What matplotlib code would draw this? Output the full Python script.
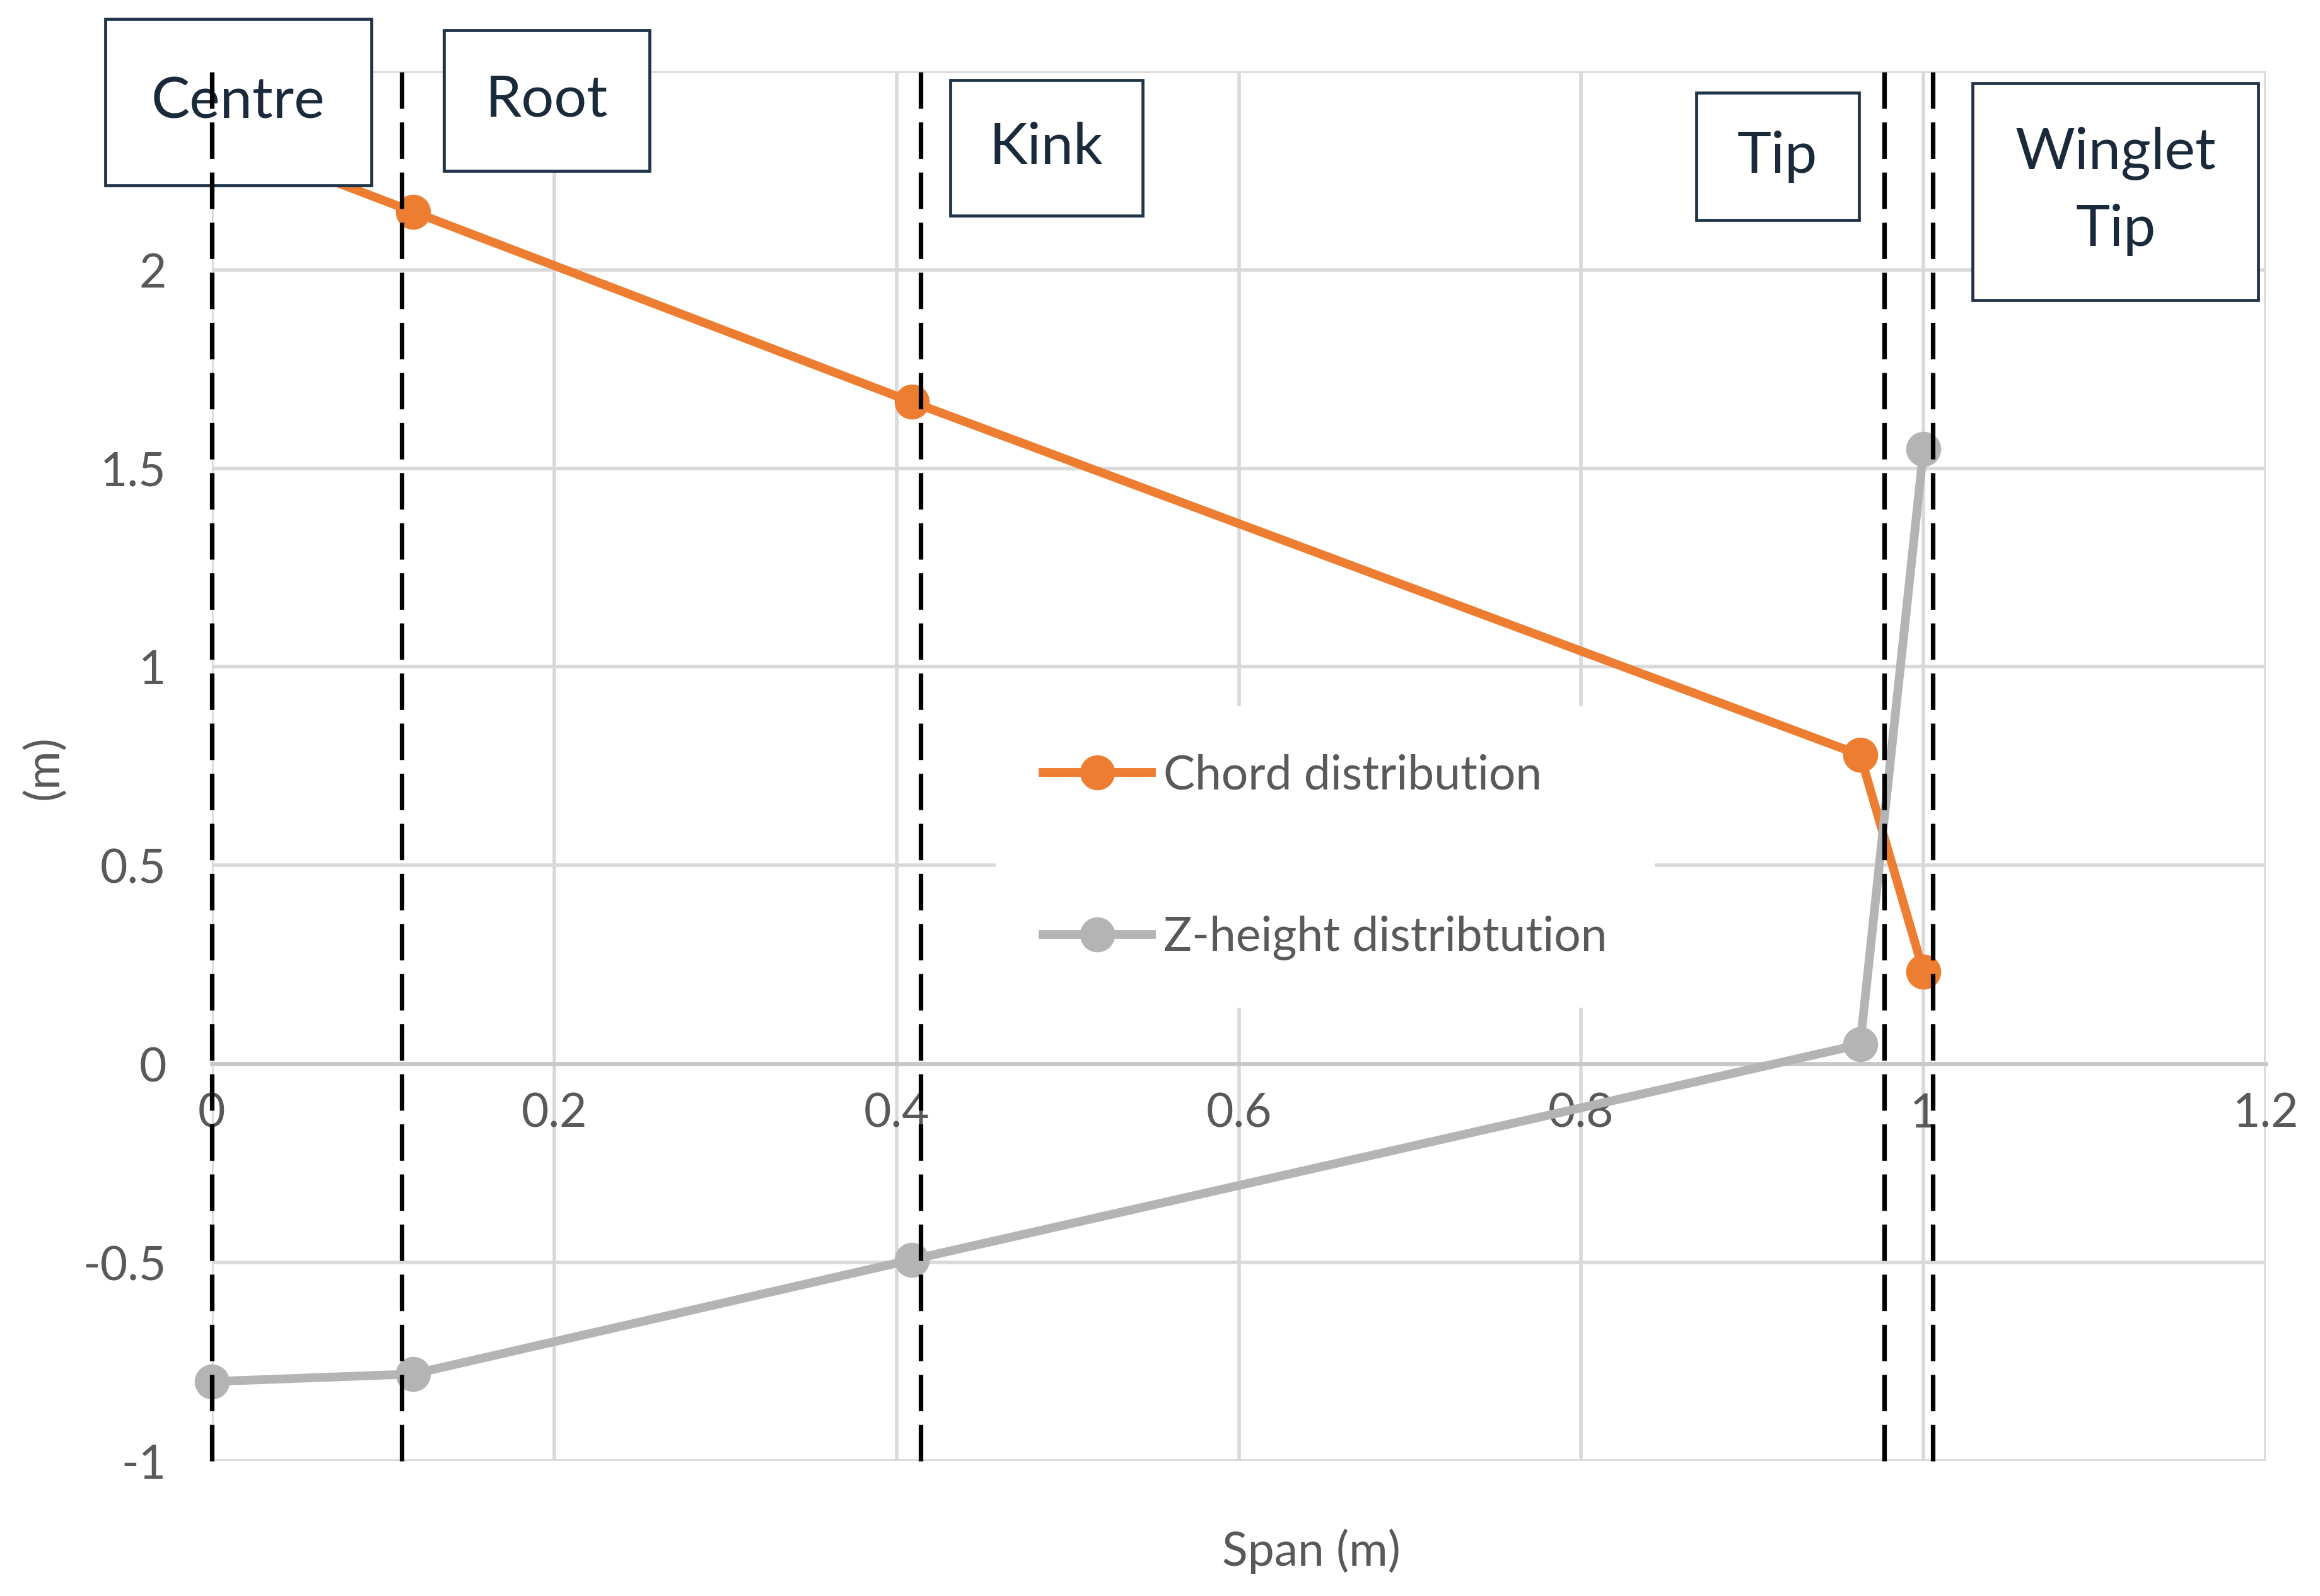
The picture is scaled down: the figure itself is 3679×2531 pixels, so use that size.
import numpy as np
import matplotlib
matplotlib.use("Agg")
import matplotlib.pyplot as plt
from matplotlib.patches import Rectangle

# span stations (m) and the two distributions
span = [0.0, 0.1176, 0.409, 0.963, 1.0]
chord = [2.34, 2.146, 1.667, 0.778, 0.232]
z_height = [-0.80, -0.781, -0.493, 0.049, 1.548]

# section markers (dashed lines)
section_x = [0.0, 0.111, 0.414, 0.977, 1.0055]

# section label boxes, figure fraction (x0, y0, x1, y1)
box_labels = ["Centre", "Root", "Kink", "Tip", "Winglet\nTip"]
box_extent = [
    (0.0453, 0.884, 0.1601, 0.988),
    (0.1913, 0.893, 0.2800, 0.981),
    (0.4094, 0.865, 0.4923, 0.950),
    (0.7309, 0.862, 0.8010, 0.942),
    (0.8501, 0.812, 0.9732, 0.948),
]

x_ticks = [0, 0.2, 0.4, 0.6, 0.8, 1, 1.2]
y_ticks = [-1, -0.5, 0, 0.5, 1, 1.5, 2, 2.5]

ORANGE = "#ed7d31"
GREY = "#b4b4b4"
TXT = "#595959"
GRID = "#d9d9d9"
NAVY = "#1f3349"

plt.rcParams['font.family'] = ['Lato', 'DejaVu Sans']

fig = plt.figure(figsize=(18.4, 12.655), dpi=200)
ax = fig.add_axes([0.0913, 0.0846, 0.8851, 0.8708])

ax.set_xlim(0, 1.2)
ax.set_ylim(-1, 2.5)
ax.set_xticks(x_ticks)
ax.set_yticks(y_ticks)
ax.set_xticklabels(["0", "0.2", "0.4", "0.6", "0.8", "1", "1.2"])
ax.set_yticklabels(["-1", "-0.5", "0", "0.5", "1", "1.5", "2", ""])
ax.grid(True, color=GRID, linewidth=2.0, zorder=0)
ax.set_axisbelow(True)

for s in ["top", "right", "left"]:
    ax.spines[s].set_visible(False)
ax.spines["bottom"].set_position(("data", 0))
ax.spines["bottom"].set_color("#c8c8c8")
ax.spines["bottom"].set_linewidth(2.4)
ax.spines["bottom"].set_zorder(1)
ax.tick_params(axis="both", length=0, labelsize=27, labelcolor=TXT)
ax.tick_params(axis="x", pad=16)
ax.tick_params(axis="y", pad=26)

ax.plot(span, chord, color=ORANGE, linewidth=5, marker="o", markersize=19,
        label="Chord distribution", zorder=3, clip_on=False)
ax.plot(span, z_height, color=GREY, linewidth=5, marker="o", markersize=19,
        label="Z-height distribtution", zorder=3, clip_on=False)

for xv in section_x:
    ax.plot([xv, xv], [-1, 2.53], color="black", linewidth=2.6,
            dashes=(8, 3), zorder=6, clip_on=False)

leg = ax.legend(loc="center", bbox_to_anchor=(0.571, 0.463),
                bbox_transform=fig.transFigure, fontsize=27, frameon=True,
                fancybox=False, edgecolor="none", facecolor="white", framealpha=1,
                labelspacing=2.5, handlelength=2.3, handletextpad=0.25,
                borderpad=1.0, borderaxespad=0)
leg.set_zorder(2)
for t in leg.get_texts():
    t.set_color(TXT)

# label boxes drawn over the data, under the dashed section lines
for lab, (x0, y0, x1, y1) in zip(box_labels, box_extent):
    ax.add_patch(Rectangle((x0, y0), x1 - x0, y1 - y0, transform=fig.transFigure,
                           facecolor="white", edgecolor=NAVY, linewidth=1.7,
                           zorder=5, clip_on=False))
    ax.text((x0 + x1) / 2, (y0 + y1) / 2, lab, transform=fig.transFigure,
            ha="center", va="center", fontsize=33, color="#1a2a3a",
            zorder=5.5, linespacing=1.55, clip_on=False)

fig.text(0.019, 0.519, "(m)", rotation=90, ha="center", va="center",
         fontsize=27, color=TXT)
fig.text(0.565, 0.028, "Span (m)", ha="center", va="center",
         fontsize=27, color=TXT)

fig.savefig("out.png", dpi=200, facecolor="white")
